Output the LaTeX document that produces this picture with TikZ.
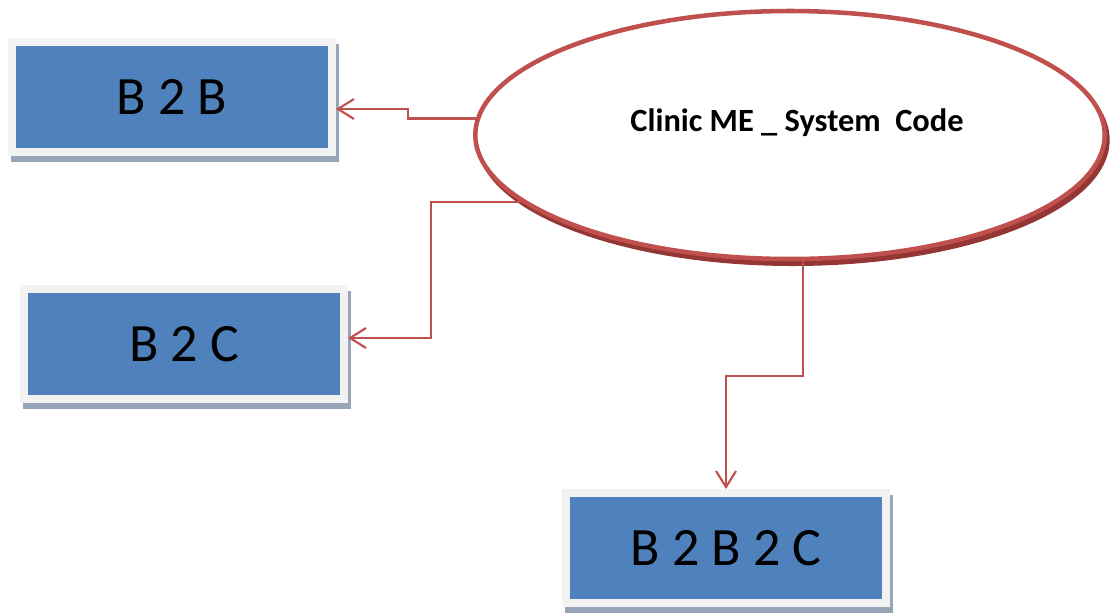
\documentclass[tikz,border=0pt]{standalone}
\usepackage{fontspec}
\setmainfont{Carlito}
\usetikzlibrary{shapes.geometric,arrows.meta,calc}
\definecolor{cred}{HTML}{C0504D}
\definecolor{cdark}{HTML}{943634}
\definecolor{cblue}{HTML}{4F81BD}
\definecolor{cframe}{HTML}{F2F2F2}
\definecolor{cshadow}{HTML}{97A5B8}
\tikzset{
  boxnode/.style={rectangle, fill=cblue, draw=cframe, line width=6pt,
    minimum width=240pt, minimum height=82.5pt, inner sep=0pt,
    font=\fontsize{40.5}{46}\selectfont, text=black},
  conn/.style={draw=cred, line width=1.6pt, -{Straight Barb[length=12pt,width=15pt,line width=1.6pt]}},
  boxshadow/.style={fill=cshadow},
}
\begin{document}
\begin{tikzpicture}[x=0.75pt,y=-0.75pt]
\useasboundingbox (0,0) rectangle (1116,612);
% box positions (drawn after shadows)
\path (172,97) coordinate (p1) (184,344) coordinate (p2) (726,548) coordinate (p3);
% shadows
\foreach \p in {p1,p2,p3}{
  \fill[boxshadow] ($(\p)+(-164+3,-59+6)$) rectangle ($(\p)+(164+3,59+6)$);
}
% boxes
\node[boxnode] (b1) at (p1) {B 2 B};
\node[boxnode] (b2) at (p2) {B 2 C};
\node[boxnode] (b3) at (p3) {B 2 B 2 C};
% ellipse with 3D rim
\node[ellipse, fill=cdark, draw=cdark, line width=3pt, minimum width=472pt, minimum height=186pt] (es) at (793,140) {};
\node[ellipse, fill=white, draw=cred, line width=3.4pt, minimum width=472pt, minimum height=186pt] (e) at (790,135) {};
\node[font=\bfseries\fontsize{24.3}{28}\selectfont] (lbl) at (797,123) {Clinic ME \_ System~\ Code};
% connectors
\draw[conn] (e.177) -- ++(-68,0) |- ($(b1.east)+(0,12)$);
\draw[conn] (e.194) -- ++(-90,0) |- ($(b2.east)+(0,-6)$);
\draw[conn] (e.276) -- ++(0,115) -| (b3.north);
\end{tikzpicture}
\end{document}
